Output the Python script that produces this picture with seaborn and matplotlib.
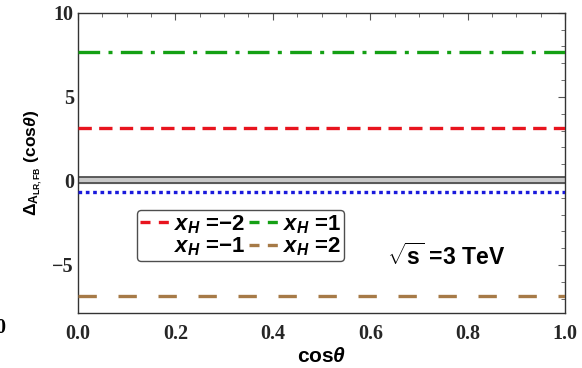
import matplotlib
matplotlib.use('Agg')
import matplotlib.pyplot as plt
from matplotlib.lines import Line2D
from matplotlib.ticker import MultipleLocator
import pandas as pd
import seaborn as sns

#>> Data
cos_theta = [0.0, 1.0]
xh_labels = ['$x_H$ =\u22122', '$x_H$ =\u22121', '$x_H$ =1', '$x_H$ =2']
xh_values = [3.15, -0.67, 7.7, -6.83]
xh_colors = ['#e8141e', '#1a1adc', '#14a014', '#a67a47']
xh_dashes = [(4, 2.2), (1.1, 1.1), (6.5, 2.5, 1.2, 2.5), (5.5, 6.5)]
sm_low = [-0.15, -0.15]
sm_high = [0.22, 0.22]
xticks = [0.0, 0.2, 0.4, 0.6, 0.8, 1.0]
xticklabels = ['0.0', '0.2', '0.4', '0.6', '0.8', '1.0']
yticks = [-5, 0, 5, 10]
yticklabels = ['\u22125', '0', '5', '10']

sns.set_style('white')
plt.rcParams['text.color'] = 'black'
plt.rcParams['axes.labelcolor'] = 'black'
plt.rcParams['mathtext.fontset'] = 'custom'
plt.rcParams['mathtext.rm'] = 'Liberation Sans:bold'
plt.rcParams['mathtext.it'] = 'Liberation Sans:bold:italic'
plt.rcParams['mathtext.bf'] = 'Liberation Sans:bold'
plt.rcParams['font.family'] = ['Liberation Sans', 'DejaVu Sans']

fig = plt.figure(figsize=(5.82, 3.68), dpi=100)
ax = fig.add_axes([0.134, 0.149, 0.837, 0.816])

#>> SM band
ax.fill_between(cos_theta, sm_low, sm_high, color='#c8c8c8', zorder=1)
ax.plot(cos_theta, sm_low, color='#444444', lw=1.2, zorder=2)
ax.plot(cos_theta, sm_high, color='#444444', lw=1.2, zorder=2)

#>> x_H lines
for lab, val, col, ds in zip(xh_labels, xh_values, xh_colors, xh_dashes):
    df = pd.DataFrame({'x': cos_theta, 'y': [val] * len(cos_theta)})
    ln = sns.lineplot(data=df, x='x', y='y', ax=ax, color=col, lw=2.4, zorder=3)
    ln.lines[-1].set_dashes(ds)

ax.set_xlim(0, 1)
ax.set_ylim(-7.87, 10)
ax.set_xticks(xticks, xticklabels)
ax.set_yticks(yticks, yticklabels)
ax.xaxis.set_minor_locator(MultipleLocator(0.05))
ax.yaxis.set_minor_locator(MultipleLocator(1))
ax.tick_params(which='both', direction='in', top=True, right=True, color='#555555')
ax.tick_params(which='major', length=5, width=0.8, labelsize=14.5)
ax.tick_params(axis='x', which='major', pad=8)
ax.tick_params(axis='y', which='major', pad=3)
ax.tick_params(which='minor', length=3, width=0.6)
for t in ax.get_xticklabels() + ax.get_yticklabels():
    t.set_fontfamily('Liberation Serif')
    t.set_fontweight('bold')
for s in ax.spines.values():
    s.set_color('#333333')
    s.set_linewidth(1.0)

ax.set_xlabel(r'cos$\theta$', fontsize=15, fontweight='bold', labelpad=2)
ax.set_ylabel(r'$\Delta_{\mathrm{A}_{\mathrm{LR,FB}}}$ (cos$\theta$)', fontsize=12.5,
              fontweight='bold', labelpad=5)

#>> legend (the x_H=-1 entry has no visible sample)
handles = []
for i, col in enumerate(xh_colors):
    h = Line2D([], [], color=col, lw=2.4, dashes=(3, 2.5))
    if i == 1:
        h.set_alpha(0)
    handles.append(h)
leg = ax.legend(handles, xh_labels, ncol=2, loc='upper left', bbox_to_anchor=(0.121, 0.345),
                prop={'weight': 'bold', 'size': 16}, handlelength=1.3, handletextpad=0.2,
                columnspacing=0.2, labelspacing=0.0, borderpad=0.15, borderaxespad=0,
                frameon=True, fancybox=True, edgecolor='#222222')
leg.get_frame().set_linewidth(1.0)

ax.text(0.635, 0.16, r'$\sqrt{\mathrm{s}}$ =3 TeV', transform=ax.transAxes,
        fontsize=16.5, fontweight='bold')

fig.text(-0.008, 0.096, '0', fontsize=14.5, fontweight='bold', family='Liberation Serif')

fig.savefig('out.png', dpi=100)
